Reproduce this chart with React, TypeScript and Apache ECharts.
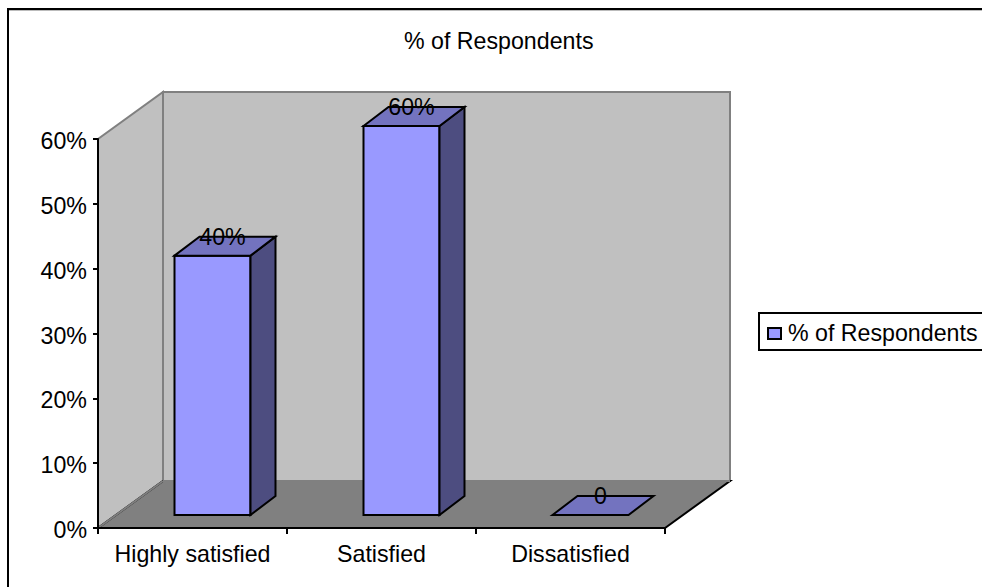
import React, { useEffect, useRef } from "react";
import * as echarts from "echarts";

const categories = ["Highly satisfied", "Satisfied", "Dissatisfied"];
const seriesName = "% of Respondents";
const values = [40, 60, 0];
const valueLabels = ["40%", "60%", "0"];

const FONT = "Liberation Sans";
const FONT_SIZE = 23.2;
const GRID = { left: 98, top: 139, width: 567, height: 389 };
const DEPTH = { x: 65, y: -47 };
const BAR = { width: 76, shiftX: 20, shiftY: -13, depthX: 25, depthY: -19 };

// Box with an oblique top and side, built from the value scale of the grid.
function renderBox(params: any, api: any) {
  const index = api.value(0);
  const value = api.value(1);
  const base = api.coord([index, 0]);
  const head = api.coord([index, value]);
  const left = base[0] + BAR.shiftX - BAR.width / 2;
  const right = left + BAR.width;
  const bottom = base[1] + BAR.shiftY;
  const top = head[1] + BAR.shiftY;
  const line = { stroke: "#000", lineWidth: 2, lineJoin: "miter" };
  const dx = BAR.depthX;
  const dy = BAR.depthY;
  const children: any[] = [];
  if (value > 0) {
    children.push({
      type: "rect",
      shape: { x: left, y: top, width: BAR.width, height: bottom - top },
      style: { fill: "#9999FF", ...line },
    });
    children.push({
      type: "polygon",
      shape: { points: [[right, top], [right + dx, top + dy], [right + dx, bottom + dy], [right, bottom]] },
      style: { fill: "#4D4D80", ...line },
    });
  }
  children.push({
    type: "polygon",
    shape: { points: [[left, top], [left + dx, top + dy], [right + dx, top + dy], [right, top]] },
    style: { fill: "#7373BF", ...line },
  });
  children.push({
    type: "text",
    x: (left + right) / 2 + 10,
    y: top - 19,
    style: {
      text: valueLabels[params.dataIndex],
      fontFamily: FONT,
      fontSize: FONT_SIZE,
      fill: "#000",
      align: "center",
      verticalAlign: "middle",
    },
  });
  return { type: "group", children };
}

export default function App() {
  const ref = useRef<HTMLDivElement>(null);

  useEffect(() => {
    const chart = echarts.init(ref.current!, undefined, { renderer: "svg" });
    const x0 = GRID.left;
    const x1 = GRID.left + GRID.width;
    const y0 = GRID.top + GRID.height;
    const y1 = GRID.top;
    const wall = { stroke: "#808080", lineWidth: 2 };
    chart.setOption({
      animation: false,
      backgroundColor: "#fff",
      title: {
        text: seriesName,
        left: 404,
        top: 29,
        padding: 0,
        textStyle: { fontFamily: FONT, fontSize: FONT_SIZE, fontWeight: "normal", color: "#000" },
      },
      grid: { left: GRID.left, top: GRID.top, width: GRID.width, height: GRID.height },
      xAxis: {
        type: "category",
        data: categories,
        axisLine: { lineStyle: { color: "#000", width: 2 } },
        axisTick: { show: true, interval: 0, alignWithLabel: false, length: 6, lineStyle: { color: "#000", width: 2 } },
        axisLabel: { interval: 0, fontFamily: FONT, fontSize: FONT_SIZE, color: "#000", margin: 14 },
      },
      yAxis: {
        type: "value",
        min: 0,
        max: 60,
        interval: 10,
        axisLine: { show: true, lineStyle: { color: "#000", width: 2 } },
        axisTick: { show: true, length: 5, lineStyle: { color: "#000", width: 2 } },
        // Top-aligned with a tiny line box, which sets the text just below each tick
        axisLabel: { fontFamily: FONT, fontSize: FONT_SIZE, color: "#000", margin: 11, verticalAlign: "top", lineHeight: 4, formatter: "{value}%" },
        splitLine: { show: false },
      },
      series: [
        {
          type: "custom",
          name: seriesName,
          renderItem: renderBox,
          encode: { x: 0, y: 1 },
          data: values.map((v, i) => [i, v]),
          clip: false,
          z: 5,
        },
      ],
      graphic: [
        // Outer frame: only its top and left edges fall inside the page
        { type: "line", z: -10, shape: { x1: 8, y1: 9, x2: 982, y2: 9 }, style: { stroke: "#000", lineWidth: 2 } },
        { type: "line", z: -10, shape: { x1: 9, y1: 10.5, x2: 982, y2: 10.5 }, style: { stroke: "#BBBBBB", lineWidth: 1 } },
        { type: "line", z: -10, shape: { x1: 8, y1: 8, x2: 8, y2: 587 }, style: { stroke: "#000", lineWidth: 2 } },
        // Side wall, back wall and floor of the 3D box
        { type: "polygon", z: -5, shape: { points: [[x0, y0], [x0 + DEPTH.x, y0 + DEPTH.y], [x0 + DEPTH.x, y1 + DEPTH.y], [x0, y1]] }, style: { fill: "#C0C0C0", ...wall } },
        { type: "rect", z: -5, shape: { x: x0 + DEPTH.x, y: y1 + DEPTH.y, width: GRID.width, height: GRID.height }, style: { fill: "#C0C0C0", ...wall } },
        { type: "polygon", z: -4, shape: { points: [[x0, y0], [x1, y0], [x1 + DEPTH.x, y0 + DEPTH.y], [x0 + DEPTH.x, y0 + DEPTH.y]] }, style: { fill: "#808080", stroke: "#000", lineWidth: 2 } },
        { type: "line", z: -3, shape: { x1: x0, y1: y0, x2: x0 + DEPTH.x, y2: y0 + DEPTH.y }, style: { stroke: "#808080", lineWidth: 2 } },
        { type: "line", z: -3, shape: { x1: x0 + DEPTH.x, y1: y0 + DEPTH.y, x2: x1 + DEPTH.x, y2: y0 + DEPTH.y }, style: { stroke: "#808080", lineWidth: 2 } },
        // Legend box with its swatch and entry
        { type: "rect", z: 6, shape: { x: 759, y: 313, width: 230, height: 37 }, style: { fill: "#fff", stroke: "#000", lineWidth: 2 } },
        { type: "rect", z: 7, shape: { x: 768, y: 328, width: 13, height: 11 }, style: { fill: "#9999FF", stroke: "#000", lineWidth: 2 } },
        { type: "text", z: 7, x: 788, y: 333, style: { text: seriesName, fontFamily: FONT, fontSize: FONT_SIZE, fill: "#000", verticalAlign: "middle" } },
      ],
    });
    return () => chart.dispose();
  }, []);

  return <div ref={ref} style={{ position: "absolute", left: 0, top: 0, width: 982, height: 587 }} />;
}
